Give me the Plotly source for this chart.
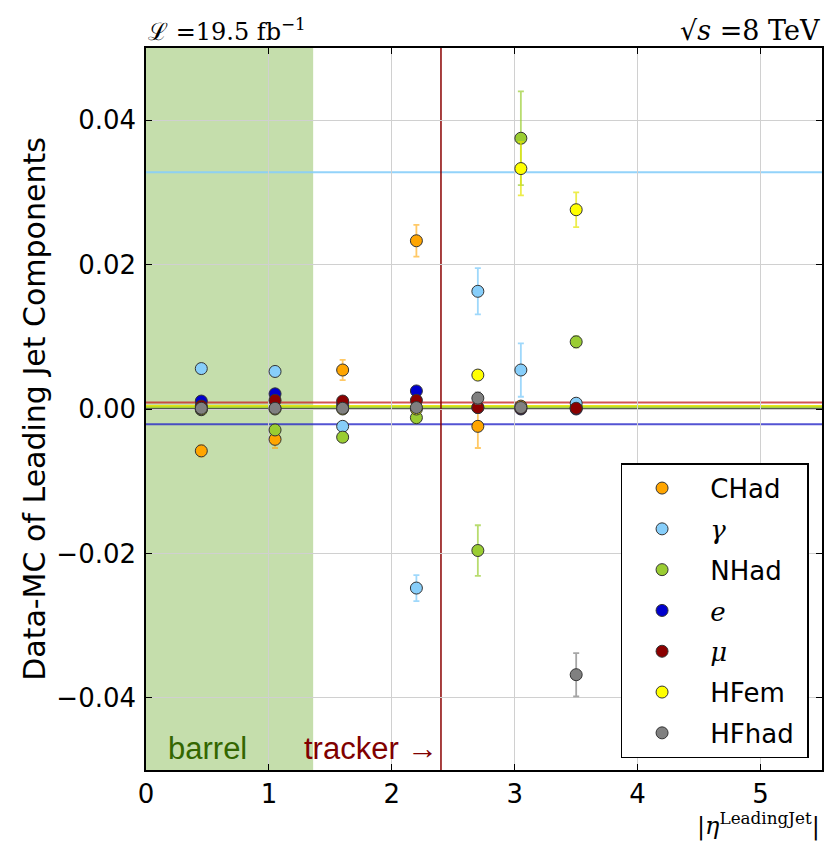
import plotly.graph_objects as go

# ---- data ----
eta_bins = [0.45, 1.05, 1.6, 2.2, 2.7, 3.05, 3.5]

components = ["CHad", "γ", "NHad", "e", "μ", "HFem", "HFhad"]
NB = "\u00a0"
SERIF = "<span style='font-family:DejaVu Serif'><i>{}</i></span>"
legend_labels = [NB + "CHad", NB + SERIF.format("γ"), NB + "NHad", NB + SERIF.format("e"),
                 NB + SERIF.format("μ"), NB + "HFem", NB + "HFhad" + NB]
colors = ["#FFA500", "#87CEFA", "#9ACD32", "#0000CD", "#8B0000", "#FFFF00", "#808080"]
err_colors = ["rgba(255,165,0,0.6)", "rgba(135,206,250,0.8)", "rgba(154,205,50,0.7)",
              "rgba(0,0,205,0.5)", "rgba(139,0,0,0.5)", "rgba(230,230,0,0.7)", "rgba(128,128,128,0.7)"]

chad_val  = [-0.0058, -0.0042, 0.0054, 0.0233, -0.0024, 0.0004, 0.0002]
chad_err  = [0.0008, 0.0012, 0.0014, 0.0022, 0.0030, 0.0004, 0.0003]
gamma_val = [0.0056, 0.0052, -0.0024, -0.0248, 0.0163, 0.0054, 0.0008]
gamma_err = [0.0005, 0.0006, 0.0006, 0.0018, 0.0032, 0.0037, 0.0004]
nhad_val  = [-0.0001, -0.0029, -0.0039, -0.0012, -0.0196, 0.0375, 0.0093]
nhad_err  = [0.0004, 0.0006, 0.0005, 0.0008, 0.0035, 0.0065, 0.0008]
e_val     = [0.0011, 0.0021, 0.0006, 0.0025, 0.0002, 0.0000, 0.0000]
e_err     = [0.0003, 0.0004, 0.0003, 0.0005, 0.0002, 0.0001, 0.0001]
mu_val    = [0.0004, 0.0012, 0.0011, 0.0012, 0.0002, 0.0001, 0.0001]
mu_err    = [0.0002, 0.0002, 0.0002, 0.0003, 0.0002, 0.0001, 0.0001]
hfem_val  = [0.0000, 0.0000, 0.0000, 0.0000, 0.0047, 0.0333, 0.0276]
hfem_err  = [0.0001, 0.0001, 0.0001, 0.0001, 0.0005, 0.0037, 0.0024]
hfhad_val = [0.0001, 0.0001, 0.0001, 0.0002, 0.0015, 0.0002, -0.0368]
hfhad_err = [0.0002, 0.0002, 0.0002, 0.0003, 0.0008, 0.0003, 0.0030]

values = [chad_val, gamma_val, nhad_val, e_val, mu_val, hfem_val, hfhad_val]
errors = [chad_err, gamma_err, nhad_err, e_err, mu_err, hfem_err, hfhad_err]

# horizontal reference levels (per component)
hline_values = [0.0328, 0.0009, 0.0004, 0.0002, 0.0000, -0.0021]
hline_colors = ["rgba(135,206,250,0.9)", "rgba(200,40,40,0.8)", "rgba(230,230,0,0.9)",
                "rgba(154,205,50,0.9)", "rgba(60,60,60,0.8)", "rgba(40,40,200,0.8)"]

barrel_edge = 1.36
tracker_edge = 2.4
x_range = [0, 5.5]
y_range = [-0.05, 0.05]
y_ticks = [-0.04, -0.02, 0.0, 0.02, 0.04]
y_ticktext = ["\u22120.04", "\u22120.02", "0.00", "0.02", "0.04"]
x_ticks = [0, 1, 2, 3, 4, 5]

fig = go.Figure()

for i, name in enumerate(components):
    fig.add_trace(go.Scatter(
        x=eta_bins, y=values[i], mode="markers", name=legend_labels[i],
        legendgroup=name,
        marker=dict(color=colors[i], size=12, line=dict(color="#333333", width=1)),
        error_y=dict(type="data", array=errors[i], visible=True,
                     color=err_colors[i], thickness=1.8, width=3),
    ))

shapes = []
shapes.append(dict(type="rect", xref="x", yref="paper", x0=0, x1=barrel_edge, y0=0, y1=1,
                   fillcolor="rgba(140,190,90,0.5)", line=dict(width=0), layer="between"))
for v, c in zip(hline_values, hline_colors):
    shapes.append(dict(type="line", xref="paper", yref="y", x0=0, x1=1, y0=v, y1=v,
                       line=dict(color=c, width=2), layer="between"))
shapes.append(dict(type="line", xref="x", yref="paper", x0=tracker_edge, x1=tracker_edge, y0=0, y1=1,
                   line=dict(color="#8B0000", width=1.5), layer="between"))

fig.update_layout(
    width=830, height=842,
    margin=dict(l=146, r=6, t=48, b=72),
    paper_bgcolor="white", plot_bgcolor="white",
    shapes=shapes,
    font=dict(family="DejaVu Sans", size=26, color="black"),
    showlegend=True,
    legend=dict(x=0.702, y=0.425, xanchor="left", yanchor="top",
                bordercolor="black", borderwidth=1.5, bgcolor="white",
                font=dict(size=26, family="DejaVu Sans"),
                tracegroupgap=4, itemwidth=70),
    xaxis=dict(range=x_range, tickvals=x_ticks, showgrid=True, gridcolor="#d0d0d0",
               gridwidth=1, zeroline=False, showline=True, linecolor="black", linewidth=1.5,
               mirror="ticks", ticks="inside", ticklen=6, tickcolor="black",
               tickfont=dict(size=26)),
    yaxis=dict(range=y_range, tickvals=y_ticks, ticktext=y_ticktext, showgrid=True,
               gridcolor="#d0d0d0", gridwidth=1, zeroline=False, showline=True,
               linecolor="black", linewidth=1.5, mirror="ticks", ticks="inside",
               ticklen=6, tickcolor="black", tickfont=dict(size=26),
               ticklabelstandoff=3,
               title=dict(text="Data-MC of Leading Jet Components", font=dict(size=30),
                          standoff=2)),
    annotations=[
        dict(text="\u2112 =19.5 fb<sup>\u22121</sup>", xref="paper", yref="paper",
             x=0.0, y=1.0, xanchor="left", yanchor="bottom", showarrow=False,
             font=dict(family="DejaVu Serif", size=24)),
        dict(text="\u221A<i>s</i> =8 TeV", xref="paper", yref="paper",
             x=1.0, y=1.0, xanchor="right", yanchor="bottom", showarrow=False,
             font=dict(family="DejaVu Serif", size=27)),
        dict(text="|<i>η</i><sup>LeadingJet</sup>|", xref="paper", yref="paper",
             x=1.0, y=-0.05, xanchor="right", yanchor="top", showarrow=False,
             font=dict(family="DejaVu Serif", size=24)),
        dict(text="barrel", xref="x", yref="y", x=0.16, y=-0.047, xanchor="left",
             yanchor="middle", showarrow=False,
             font=dict(family="Liberation Sans", size=31, color="#336600")),
        dict(text="tracker \u2192", xref="x", yref="y", x=tracker_edge - 0.01, y=-0.047,
             xanchor="right", yanchor="middle", showarrow=False,
             font=dict(family="Liberation Sans", size=31, color="#800000")),
    ],
)

fig.write_html("out.html")
